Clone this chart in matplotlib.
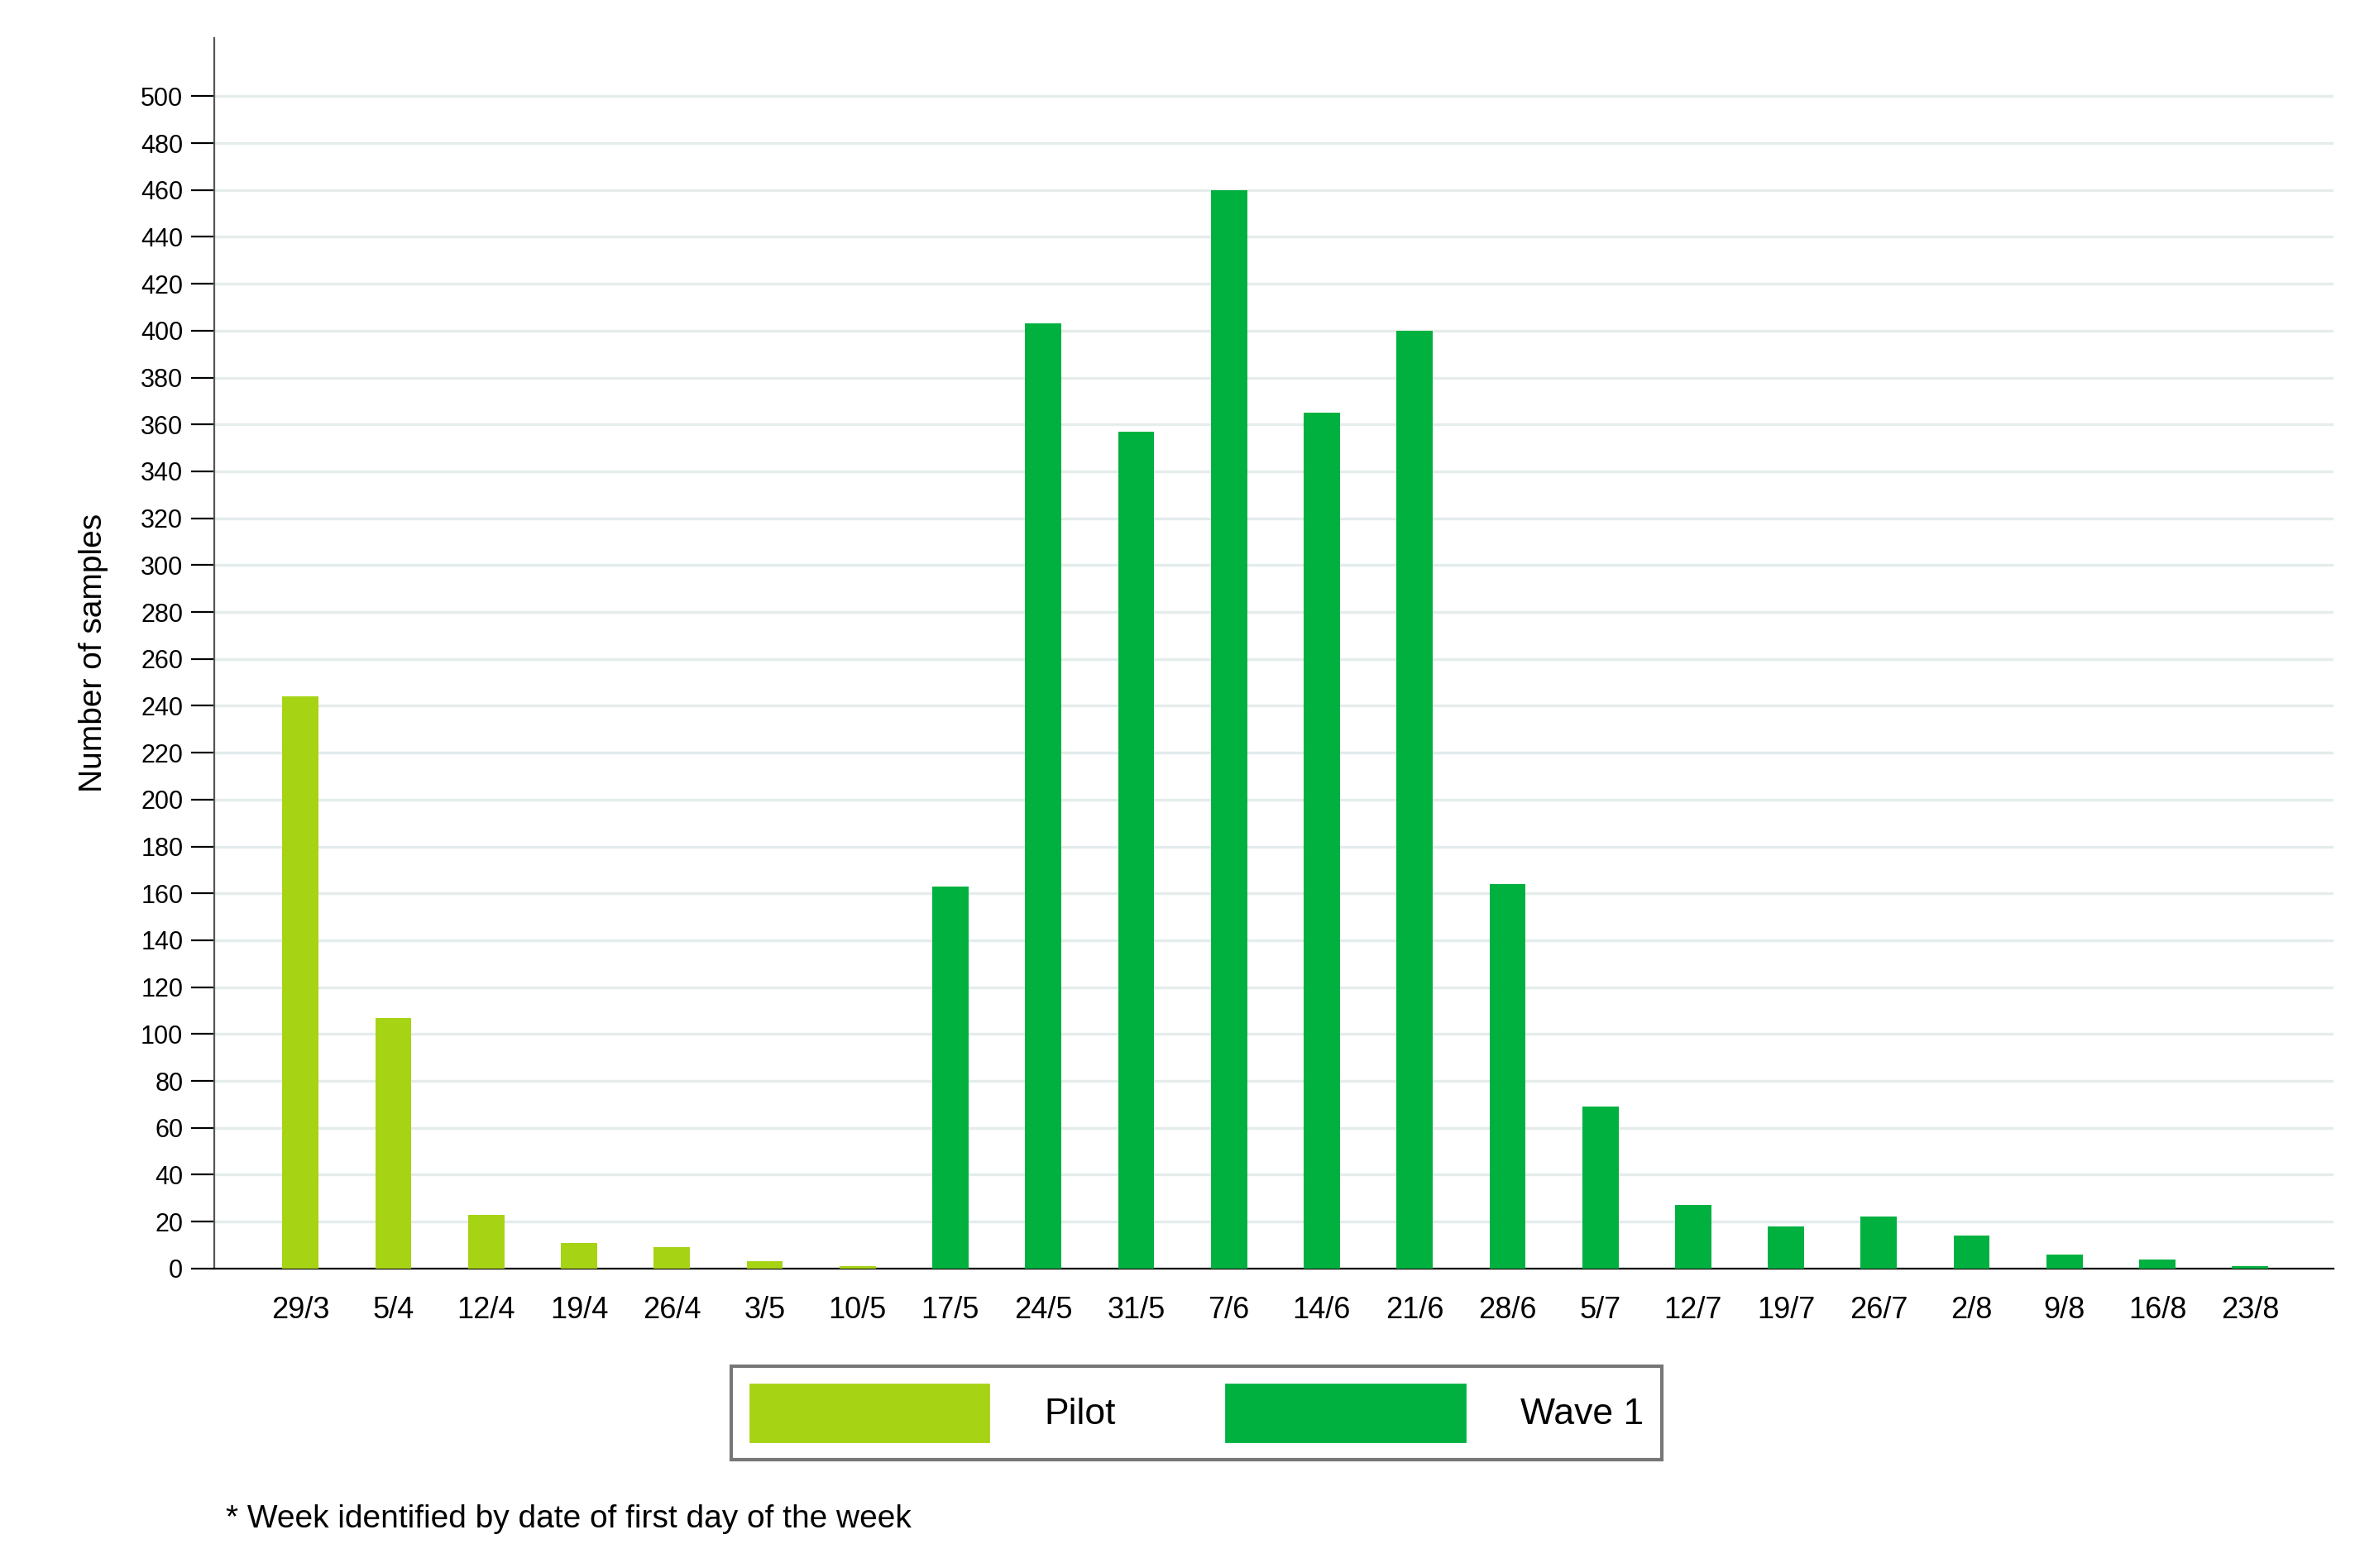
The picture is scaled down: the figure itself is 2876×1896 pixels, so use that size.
import matplotlib.pyplot as plt
import matplotlib.patches as mpatches

plt.rcParams['font.family'] = ['Liberation Sans', 'DejaVu Sans']

# === Data ===
weeks = ['29/3', '5/4', '12/4', '19/4', '26/4', '3/5', '10/5', '17/5', '24/5', '31/5', '7/6',
         '14/6', '21/6', '28/6', '5/7', '12/7', '19/7', '26/7', '2/8', '9/8', '16/8', '23/8']
pilot = [244, 107, 23, 11, 9, 3, 1]
wave1 = [163, 403, 357, 460, 365, 400, 164, 69, 27, 18, 22, 14, 6, 4, 1]

PILOT_COLOR = '#a6d314'
WAVE_COLOR = '#00b140'

fig = plt.figure(figsize=(14.38, 9.48), dpi=200)
ax = fig.add_axes([0.090, 0.191, 0.891, 0.785])

x_pilot = list(range(len(pilot)))
x_wave = list(range(len(pilot), len(pilot) + len(wave1)))
ax.bar(x_pilot, pilot, width=0.39, color=PILOT_COLOR, zorder=3)
ax.bar(x_wave, wave1, width=0.39, color=WAVE_COLOR, zorder=3)

ax.set_xlim(-0.93, 21.9)
ax.set_ylim(0, 525)
ax.set_yticks(range(0, 501, 20))
ax.tick_params(axis='y', labelsize=11, length=10, direction='out')
ax.set_xticks(range(len(weeks)))
ax.set_xticklabels(weeks, fontsize=13)
ax.tick_params(axis='x', length=0, pad=12)
ax.yaxis.grid(True, color='#e4ecec', linewidth=1.2, zorder=0)
ax.spines['top'].set_visible(False)
ax.spines['right'].set_visible(False)
ax.spines['left'].set_color('#555555')
ax.set_ylabel('Number of samples', fontsize=14, labelpad=14)

handles = [mpatches.Patch(color=PILOT_COLOR, label='Pilot'),
           mpatches.Patch(color=WAVE_COLOR, label='Wave 1')]
leg = fig.legend(handles=handles, loc='center', bbox_to_anchor=(0.503, 0.099), ncol=2,
                 fontsize=16, handlelength=6.5, handleheight=2.0, columnspacing=3.0,
                 handletextpad=1.5, fancybox=False, edgecolor='#555555', borderpad=0.5)
leg.get_frame().set_linewidth(1.5)

fig.text(0.095, 0.026, '* Week identified by date of first day of the week', fontsize=14)

fig.savefig('out.png', dpi=200)
plt.close(fig)
